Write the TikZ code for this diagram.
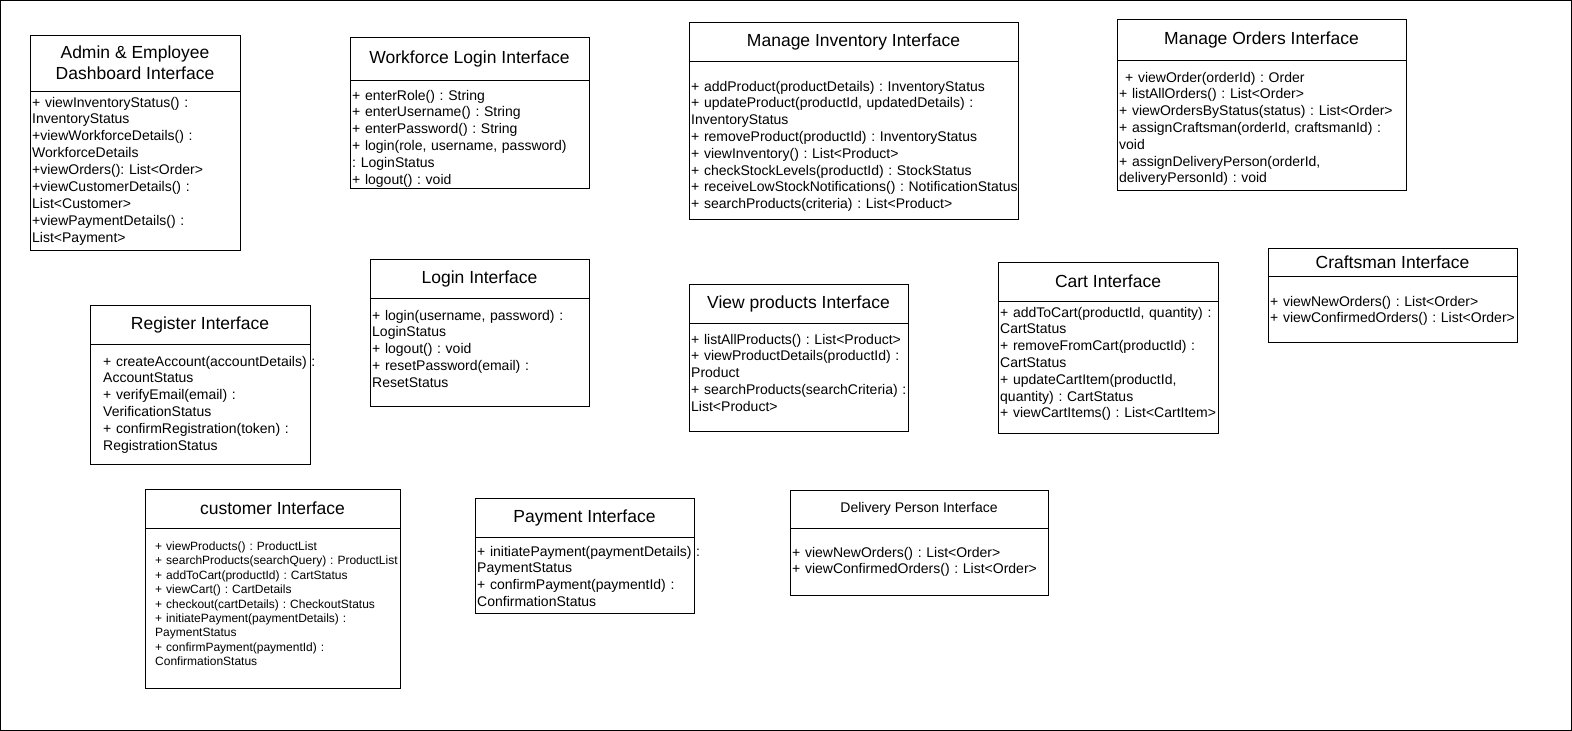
\documentclass[tikz,border=0pt]{standalone}
\usepackage{fontspec}
\setmainfont{Liberation Sans}
\frenchspacing
\colorlet{frameColor}{black}
\colorlet{textColor}{black}
\tikzset{
  umlbox/.style={draw=frameColor, line width=1pt},
  boxtitle/.style={anchor=center, align=center, inner sep=0pt, text=textColor, font=\fontsize{17.5}{21}\selectfont},
  opslist/.style={anchor=base west, align=left, text width=340pt, inner sep=0pt, text=textColor, font=\fontsize{14}{16.8}\selectfont},
  smallops/.style={opslist, font=\fontsize{12}{14.4}\selectfont}
}

\begin{document}
\begin{tikzpicture}[x=1pt, y=-1pt]
				\useasboundingbox (0,0) rectangle (1572,731);
				\draw[umlbox] (0.5,0.5) rectangle (1571.5,730.5);
				% top row
				\draw[umlbox] (30,35) rectangle (240,250) (30,91) -- (240,91);
				\node [boxtitle] (adminTitle) at (135,63) {Admin \& Employee\\Dashboard Interface};
				\node [opslist, font=\fontsize{14}{16.9}\selectfont] (adminOps) at (32,107) {+ viewInventoryStatus() :\\InventoryStatus\\+viewWorkforceDetails() :\\WorkforceDetails\\+viewOrders(): List<Order>\\+viewCustomerDetails() :\\List<Customer>\\+viewPaymentDetails() :\\List<Payment>};
				\draw[umlbox] (350,37) rectangle (589,188) (350,80) -- (589,80);
				\node [boxtitle] (workLoginTitle) at (469.5,58.5) {Workforce Login Interface};
				\node [opslist] (workLoginOps) at (352,100) {+ enterRole() : String\\+ enterUsername() : String\\+ enterPassword() : String\\+ login(role, username, password)\\: LoginStatus\\+ logout() : void};
				\draw[umlbox] (689,22) rectangle (1018,219) (689,61) -- (1018,61);
				\node [boxtitle] (inventoryTitle) at (853.5,41.5) {Manage Inventory Interface};
				\node [opslist] (inventoryOps) at (691,91) {+ addProduct(productDetails) : InventoryStatus\\+ updateProduct(productId, updatedDetails) :\\InventoryStatus\\+ removeProduct(productId) : InventoryStatus\\+ viewInventory() : List<Product>\\+ checkStockLevels(productId) : StockStatus\\+ receiveLowStockNotifications() : NotificationStatus\\+ searchProducts(criteria) : List<Product>};
				\draw[umlbox] (1117,19) rectangle (1406,190) (1117,60) -- (1406,60);
				\node [boxtitle] (ordersTitle) at (1261.5,39.5) {Manage Orders Interface};
				\node [opslist] (ordersOps) at (1119,82) {\hspace*{6pt}+ viewOrder(orderId) : Order\\+ listAllOrders() : List<Order>\\+ viewOrdersByStatus(status) : List<Order>\\+ assignCraftsman(orderId, craftsmanId) :\\void\\+ assignDeliveryPerson(orderId,\\deliveryPersonId) : void};
				% middle row
				\draw[umlbox] (90,305) rectangle (310,464) (90,344) -- (310,344);
				\node [boxtitle] (registerTitle) at (200,324.5) {Register Interface};
				\node [opslist] (registerOps) at (103,366) {+ createAccount(accountDetails) :\\AccountStatus\\+ verifyEmail(email) :\\VerificationStatus\\+ confirmRegistration(token) :\\RegistrationStatus};
				\draw[umlbox] (370,259) rectangle (589,406) (370,298) -- (589,298);
				\node [boxtitle] (loginTitle) at (479.5,278.5) {Login Interface};
				\node [opslist] (loginOps) at (372,320) {+ login(username, password) :\\LoginStatus\\+ logout() : void\\+ resetPassword(email) :\\ResetStatus};
				\draw[umlbox] (689,284) rectangle (908,431) (689,323) -- (908,323);
				\node [boxtitle] (productsTitle) at (798.5,303.5) {View products Interface};
				\node [opslist] (productsOps) at (691,344) {+ listAllProducts() : List<Product>\\+ viewProductDetails(productId) :\\Product\\+ searchProducts(searchCriteria) :\\List<Product>};
				\draw[umlbox] (998,262) rectangle (1218,433) (998,301) -- (1218,301);
				\node [boxtitle] (cartTitle) at (1108,281.5) {Cart Interface};
				\node [opslist] (cartOps) at (1000,317) {+ addToCart(productId, quantity) :\\CartStatus\\+ removeFromCart(productId) :\\CartStatus\\+ updateCartItem(productId,\\quantity) : CartStatus\\+ viewCartItems() : List<CartItem>};
				\draw[umlbox] (1268,248) rectangle (1517,342) (1268,276) -- (1517,276);
				\node [boxtitle] (craftsmanTitle) at (1392.5,262) {Craftsman Interface};
				\node [opslist] (craftsmanOps) at (1270,306) {+ viewNewOrders() : List<Order>\\+ viewConfirmedOrders() : List<Order>};
				% bottom row
				\draw[umlbox] (145,489) rectangle (400,688) (145,528) -- (400,528);
				\node [boxtitle] (customerTitle) at (272.5,508.5) {customer Interface};
				\node [smallops] (customerOps) at (155,550.5) {+ viewProducts() : ProductList\\+ searchProducts(searchQuery) : ProductList\\+ addToCart(productId) : CartStatus\\+ viewCart() : CartDetails\\+ checkout(cartDetails) : CheckoutStatus\\+ initiatePayment(paymentDetails) :\\PaymentStatus\\+ confirmPayment(paymentId) :\\ConfirmationStatus};
				\draw[umlbox] (475,498) rectangle (694,613) (475,537) -- (694,537);
				\node [boxtitle] (paymentTitle) at (584.5,517.5) {Payment Interface};
				\node [opslist] (paymentOps) at (477,556) {+ initiatePayment(paymentDetails) :\\PaymentStatus\\+ confirmPayment(paymentId) :\\ConfirmationStatus};
				\draw[umlbox] (790,490) rectangle (1048,595) (790,528) -- (1048,528);
				\node [boxtitle, font=\fontsize{14}{16.8}\selectfont] (deliveryTitle) at (919,509) {Delivery Person Interface};
				\node [opslist] (deliveryOps) at (792,557) {+ viewNewOrders() : List<Order>\\+ viewConfirmedOrders() : List<Order>};
\end{tikzpicture}
\end{document}
